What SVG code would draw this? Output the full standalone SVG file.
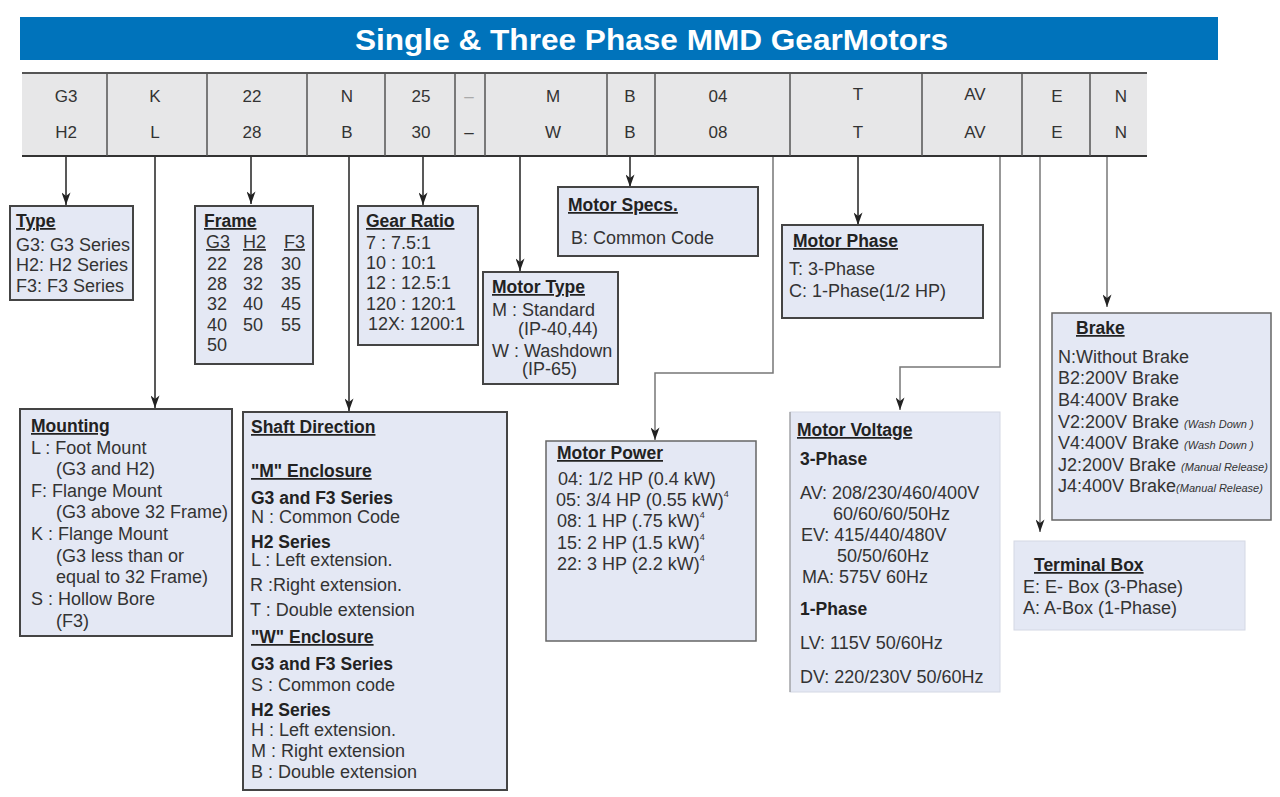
<svg xmlns="http://www.w3.org/2000/svg" width="1280" height="797" viewBox="0 0 1280 797">
<defs>
<marker id="arr" viewBox="0 0 14 10" refX="14" refY="5" markerWidth="14" markerHeight="9" markerUnits="userSpaceOnUse" orient="auto">
<path d="M0,0 L14,5 L0,10 L4,5 z" fill="#222"/>
</marker>
</defs>
<style>
text{font-family:"Liberation Sans",Arial,sans-serif;fill:#333;}
.cell{font-size:17px;text-anchor:middle;}
.t{font-size:17.5px;font-weight:bold;text-decoration:underline;fill:#222;}
.b{font-size:18px;}
.bb{font-size:17.5px;font-weight:bold;fill:#222;}
.sm{font-size:11px;font-style:italic;}
.box{fill:#e4e8f4;stroke:#444;stroke-width:2;}
.lbox{fill:#e4e8f4;stroke:#d4d8e4;stroke-width:1;}
.c{fill:none;stroke:#222;stroke-width:1.5;}
.cg{fill:none;stroke:#777;stroke-width:1.5;}
.div{stroke:#555;stroke-width:1.5;}
</style>

<g id="banner">
<rect x="20" y="17" width="1198" height="43" fill="#0073bb"/>
<text x="355" y="50" textLength="593" lengthAdjust="spacingAndGlyphs" style="font-size:30px;font-weight:bold;fill:#fff;">Single &amp; Three Phase MMD GearMotors</text>
</g>

<g id="code-table">
<rect x="22" y="73" width="1125" height="83" fill="#e7e7e8"/>
<line x1="22" y1="73" x2="1147" y2="73" stroke="#555" stroke-width="2"/>
<line x1="22" y1="156" x2="1147" y2="156" stroke="#333" stroke-width="2"/>
<g class="div">
<line x1="107" y1="73" x2="107" y2="156"/>
<line x1="207" y1="73" x2="207" y2="156"/>
<line x1="307" y1="73" x2="307" y2="156"/>
<line x1="385" y1="73" x2="385" y2="156"/>
<line x1="455" y1="73" x2="455" y2="156"/>
<line x1="485" y1="73" x2="485" y2="156"/>
<line x1="607" y1="73" x2="607" y2="156"/>
<line x1="655" y1="73" x2="655" y2="156"/>
<line x1="790" y1="73" x2="790" y2="156"/>
<line x1="922" y1="73" x2="922" y2="156"/>
<line x1="1022" y1="73" x2="1022" y2="156"/>
<line x1="1090" y1="73" x2="1090" y2="156"/>
</g>
<text class="cell" x="66" y="102">G3</text><text class="cell" x="66" y="138">H2</text>
<text class="cell" x="155" y="102">K</text><text class="cell" x="155" y="138">L</text>
<text class="cell" x="252" y="102">22</text><text class="cell" x="252" y="138">28</text>
<text class="cell" x="347" y="102">N</text><text class="cell" x="347" y="138">B</text>
<text class="cell" x="421" y="102">25</text><text class="cell" x="421" y="138">30</text>
<text class="cell" x="469" y="102" style="fill:#aaa;">–</text><text class="cell" x="469" y="138">–</text>
<text class="cell" x="553" y="102">M</text><text class="cell" x="553" y="138">W</text>
<text class="cell" x="630" y="102">B</text><text class="cell" x="630" y="138">B</text>
<text class="cell" x="718" y="102">04</text><text class="cell" x="718" y="138">08</text>
<text class="cell" x="858" y="100">T</text><text class="cell" x="858" y="138">T</text>
<text class="cell" x="975" y="100">AV</text><text class="cell" x="975" y="138">AV</text>
<text class="cell" x="1057" y="102">E</text><text class="cell" x="1057" y="138">E</text>
<text class="cell" x="1121" y="102">N</text><text class="cell" x="1121" y="138">N</text>
</g>

<g id="connectors">
<path class="c" d="M66,157 V205" marker-end="url(#arr)"/>
<path class="c" d="M155,157 V408" marker-end="url(#arr)"/>
<path class="c" d="M251,157 V204" marker-end="url(#arr)"/>
<path class="c" d="M349,157 V411" marker-end="url(#arr)"/>
<path class="c" d="M423,157 V205" marker-end="url(#arr)"/>
<path class="c" d="M520,157 V271" marker-end="url(#arr)"/>
<path class="c" d="M630,157 V187" marker-end="url(#arr)"/>
<path class="cg" d="M773,157 V373 H655 V440" marker-end="url(#arr)"/>
<path class="c" d="M858,157 V225" marker-end="url(#arr)"/>
<path class="cg" d="M1000,157 V367 H900 V410" marker-end="url(#arr)"/>
<path class="cg" d="M1040,157 V532" marker-end="url(#arr)"/>
<path class="cg" d="M1107,157 V307" marker-end="url(#arr)"/>
</g>

<g id="type">
<rect class="box" x="10" y="206" width="123" height="94"/>
<text class="t" x="16" y="227">Type</text>
<text class="b" x="16" y="251">G3: G3 Series</text>
<text class="b" x="16" y="271">H2: H2 Series</text>
<text class="b" x="16" y="292">F3: F3 Series</text>
</g>

<g id="frame">
<rect class="box" x="195" y="206" width="118" height="158"/>
<text class="t" x="204" y="227">Frame</text>
<text class="b" x="206" y="248" style="text-decoration:underline;">G3</text>
<text class="b" x="243" y="248" style="text-decoration:underline;">H2</text>
<text class="b" x="284" y="248" style="text-decoration:underline;">F3</text>
<text class="b" x="207" y="270">22</text><text class="b" x="243" y="270">28</text><text class="b" x="281" y="270">30</text>
<text class="b" x="207" y="290">28</text><text class="b" x="243" y="290">32</text><text class="b" x="281" y="290">35</text>
<text class="b" x="207" y="310">32</text><text class="b" x="243" y="310">40</text><text class="b" x="281" y="310">45</text>
<text class="b" x="207" y="331">40</text><text class="b" x="243" y="331">50</text><text class="b" x="281" y="331">55</text>
<text class="b" x="207" y="351">50</text>
</g>

<g id="gear-ratio">
<rect class="box" x="358" y="206" width="120" height="139"/>
<text class="t" x="366" y="227">Gear Ratio</text>
<text class="b" x="366" y="249">7 : 7.5:1</text>
<text class="b" x="366" y="269">10 : 10:1</text>
<text class="b" x="366" y="289">12 : 12.5:1</text>
<text class="b" x="366" y="310">120 : 120:1</text>
<text class="b" x="368" y="330">12X: 1200:1</text>
</g>

<g id="motor-specs">
<rect class="box" x="558" y="187" width="200" height="69"/>
<text class="t" x="568" y="211">Motor Specs.</text>
<text class="b" x="571" y="244">B: Common Code</text>
</g>

<g id="motor-type">
<rect class="box" x="483" y="272" width="135" height="112"/>
<text class="t" x="492" y="293">Motor Type</text>
<text class="b" x="492" y="316">M : Standard</text>
<text class="b" x="518" y="335">(IP-40,44)</text>
<text class="b" x="492" y="357">W : Washdown</text>
<text class="b" x="522" y="375">(IP-65)</text>
</g>

<g id="motor-phase">
<rect class="box" x="782" y="225" width="201" height="93"/>
<text class="t" x="793" y="247">Motor Phase</text>
<text class="b" x="789" y="275">T: 3-Phase</text>
<text class="b" x="789" y="297">C: 1-Phase(1/2 HP)</text>
</g>

<g id="brake">
<rect class="box" x="1052" y="313" width="219" height="207" style="stroke:#666;stroke-width:1.5;"/>
<text class="t" x="1076" y="334">Brake</text>
<text class="b" x="1058" y="363">N:Without Brake</text>
<text class="b" x="1058" y="384">B2:200V Brake</text>
<text class="b" x="1058" y="406">B4:400V Brake</text>
<text class="b" x="1058" y="428">V2:200V Brake <tspan class="sm">(Wash Down )</tspan></text>
<text class="b" x="1058" y="449">V4:400V Brake <tspan class="sm">(Wash Down )</tspan></text>
<text class="b" x="1058" y="471">J2:200V Brake <tspan class="sm">(Manual Release)</tspan></text>
<text class="b" x="1058" y="492">J4:400V Brake<tspan class="sm">(Manual Release)</tspan></text>
</g>

<g id="mounting">
<rect class="box" x="20" y="409" width="212" height="227"/>
<text class="t" x="31" y="432">Mounting</text>
<text class="b" x="31" y="454">L : Foot Mount</text>
<text class="b" x="56" y="475">(G3 and H2)</text>
<text class="b" x="31" y="497">F: Flange Mount</text>
<text class="b" x="56" y="518">(G3 above 32 Frame)</text>
<text class="b" x="31" y="540">K : Flange Mount</text>
<text class="b" x="56" y="562">(G3 less than or</text>
<text class="b" x="56" y="583">equal to 32 Frame)</text>
<text class="b" x="31" y="605">S : Hollow Bore</text>
<text class="b" x="56" y="627">(F3)</text>
</g>

<g id="shaft-direction">
<rect class="box" x="243" y="412" width="264" height="378"/>
<text class="t" x="251" y="433">Shaft Direction</text>
<text class="t" x="251" y="477">"M" Enclosure</text>
<text class="bb" x="251" y="504">G3 and F3 Series</text>
<text class="b" x="251" y="523">N : Common Code</text>
<text class="bb" x="251" y="548">H2 Series</text>
<text class="b" x="251" y="566">L : Left extension.</text>
<text class="b" x="250" y="591">R :Right extension.</text>
<text class="b" x="250" y="616">T : Double extension</text>
<text class="t" x="251" y="643">"W" Enclosure</text>
<text class="bb" x="251" y="670">G3 and F3 Series</text>
<text class="b" x="251" y="691">S : Common code</text>
<text class="bb" x="251" y="716">H2 Series</text>
<text class="b" x="251" y="736">H : Left extension.</text>
<text class="b" x="251" y="757">M : Right extension</text>
<text class="b" x="251" y="778">B : Double extension</text>
</g>

<g id="motor-power">
<rect class="box" x="546" y="441" width="210" height="200" style="stroke:#666;stroke-width:1.5;"/>
<text class="t" x="557" y="459">Motor Power</text>
<text class="b" x="558" y="485">04: 1/2 HP (0.4 kW)</text>
<text class="b" x="556" y="506">05: 3/4 HP (0.55 kW)<tspan style="font-size:9px;" dy="-9">4</tspan></text>
<text class="b" x="557" y="527">08: 1 HP (.75 kW)<tspan style="font-size:9px;" dy="-9">4</tspan></text>
<text class="b" x="557" y="549">15: 2 HP (1.5 kW)<tspan style="font-size:9px;" dy="-9">4</tspan></text>
<text class="b" x="557" y="570">22: 3 HP (2.2 kW)<tspan style="font-size:9px;" dy="-9">4</tspan></text>
</g>

<g id="motor-voltage">
<rect class="lbox" x="790" y="412" width="210" height="280"/>
<line x1="790" y1="412" x2="790" y2="692" stroke="#888" stroke-width="1"/>
<text class="t" x="797" y="436">Motor Voltage</text>
<text class="bb" x="800" y="465">3-Phase</text>
<text class="b" x="800" y="499">AV: 208/230/460/400V</text>
<text class="b" x="833" y="520">60/60/60/50Hz</text>
<text class="b" x="801" y="541">EV: 415/440/480V</text>
<text class="b" x="837" y="562">50/50/60Hz</text>
<text class="b" x="802" y="583">MA: 575V 60Hz</text>
<text class="bb" x="800" y="615">1-Phase</text>
<text class="b" x="800" y="649">LV: 115V 50/60Hz</text>
<text class="b" x="800" y="683">DV: 220/230V 50/60Hz</text>
</g>

<g id="terminal-box">
<rect class="lbox" x="1014" y="541" width="231" height="89"/>
<text class="t" x="1034" y="571">Terminal Box</text>
<text class="b" x="1023" y="593">E: E- Box (3-Phase)</text>
<text class="b" x="1023" y="614">A: A-Box (1-Phase)</text>
</g>
</svg>
